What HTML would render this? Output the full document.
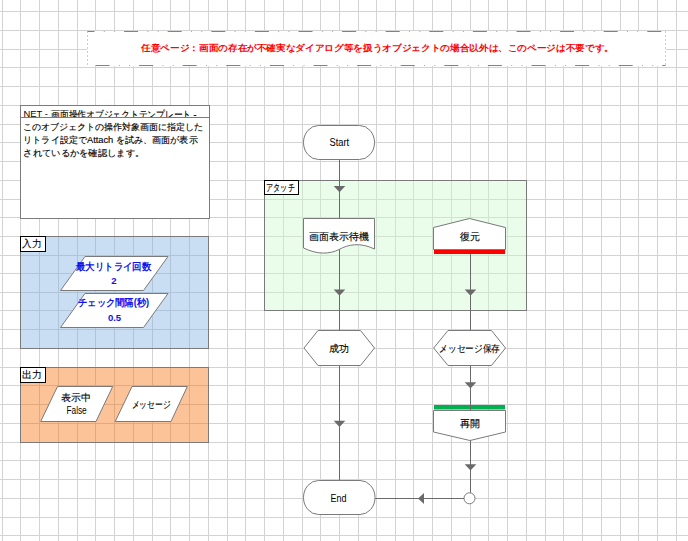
<!DOCTYPE html>
<html><head><meta charset="utf-8"><style>
html,body{margin:0;padding:0;width:688px;height:541px;overflow:hidden;background:#fff;}
</style></head><body>
<svg width="688" height="541" viewBox="0 0 688 541" style="position:absolute;left:0;top:0;font-family:'Liberation Sans',sans-serif"><path d="M2.5 0V541M20.5 0V541M39.5 0V541M58.5 0V541M77.5 0V541M95.5 0V541M114.5 0V541M133.5 0V541M152.5 0V541M170.5 0V541M189.5 0V541M208.5 0V541M227.5 0V541M245.5 0V541M264.5 0V541M283.5 0V541M302.5 0V541M320.5 0V541M339.5 0V541M358.5 0V541M376.5 0V541M395.5 0V541M413.5 0V541M432.5 0V541M451.5 0V541M470.5 0V541M488.5 0V541M507.5 0V541M526.5 0V541M545.5 0V541M563.5 0V541M582.5 0V541M601.5 0V541M620.5 0V541M638.5 0V541M657.5 0V541M676.5 0V541M0 11.5H688M0 30.5H688M0 49.5H688M0 67.5H688M0 86.5H688M0 105.5H688M0 124.5H688M0 142.5H688M0 161.5H688M0 180.5H688M0 199.5H688M0 217.5H688M0 236.5H688M0 255.5H688M0 273.5H688M0 292.5H688M0 310.5H688M0 329.5H688M0 348.5H688M0 367.5H688M0 385.5H688M0 404.5H688M0 423.5H688M0 442.5H688M0 460.5H688M0 479.5H688M0 498.5H688M0 517.5H688M0 535.5H688" stroke="#d3d3d3" stroke-width="1" fill="none" shape-rendering="crispEdges"/>
<rect x="87" y="31" width="579" height="35" fill="#fff"/>
<path d="M87.5 31.5H665.5" stroke="#828282" stroke-width="1" stroke-dasharray="14 29.6" stroke-dashoffset="7" fill="none"/>
<path d="M87.5 65.5H665.5" stroke="#828282" stroke-width="1" stroke-dasharray="14 29.6" stroke-dashoffset="-8" fill="none"/>
<path d="M87.5 31.5H665.5" stroke="#a8a8a8" stroke-width="1" stroke-dasharray="0 23.3 1 9.3 1 9" stroke-dashoffset="7" fill="none"/>
<path d="M87.5 65.5H665.5" stroke="#a8a8a8" stroke-width="1" stroke-dasharray="0 23.3 1 9.3 1 9" stroke-dashoffset="-8" fill="none"/>
<path d="M87.5 31.5V65.5M665.5 31.5V65.5" stroke="#9a9a9a" stroke-width="1" stroke-dasharray="1 3" fill="none"/>
<text x="141" y="50.6" font-size="9" text-anchor="start" font-weight="bold" fill="#ff0000" textLength="473" lengthAdjust="spacingAndGlyphs">任意ページ：画面の存在が不確実なダイアログ等を扱うオブジェクトの場合以外は、このページは不要です。</text>
<rect x="20.5" y="105.5" width="189" height="113" fill="#fff" stroke="#7c7c7c"/>
<clipPath id="c1"><rect x="20" y="106" width="188" height="11"/></clipPath>
<g clip-path="url(#c1)"><text x="23.5" y="116.8" font-size="9.8" text-anchor="start" font-weight="normal" fill="#000" textLength="24.3" lengthAdjust="spacingAndGlyphs">NET -</text><text x="51" y="117.6" font-size="10" text-anchor="start" font-weight="normal" fill="#000" stroke="#000" stroke-width="0.13" textLength="145.5" lengthAdjust="spacingAndGlyphs">画面操作オブジェクトテンプレート -</text></g>
<path d="M20.5 117.5H209.5" stroke="#7c7c7c"/>
<text x="23.3" y="129.8" font-size="9.2" text-anchor="start" font-weight="normal" fill="#000" stroke="#000" stroke-width="0.13" textLength="179.7" lengthAdjust="spacingAndGlyphs">このオブジェクトの操作対象画面に指定した</text>
<text x="23.3" y="142.9" font-size="9.2" text-anchor="start" font-weight="normal" fill="#000" stroke="#000" stroke-width="0.13" textLength="174.4" lengthAdjust="spacingAndGlyphs">リトライ設定でAttach を試み、画面が表示</text>
<text x="23.3" y="155.8" font-size="9.2" text-anchor="start" font-weight="normal" fill="#000" stroke="#000" stroke-width="0.13" textLength="121" lengthAdjust="spacingAndGlyphs">されているかを確認します。</text>
<rect x="20.5" y="236.5" width="188" height="112" fill="rgb(126,175,226)" fill-opacity="0.41" stroke="#7a7a7a"/>
<rect x="20.5" y="236.5" width="25" height="15" fill="#fff" stroke="#000"/>
<text x="22.3" y="247.2" font-size="9.5" text-anchor="start" font-weight="normal" fill="#000" stroke="#000" stroke-width="0.13" textLength="19.5" lengthAdjust="spacingAndGlyphs">入力</text>
<path d="M85 256.5L168 256.5L143.5 290.5L60.5 290.5Z" fill="#fff" stroke="#7a7a7a"/>
<path d="M85 293.5L168 293.5L143.5 327.5L60.5 327.5Z" fill="#fff" stroke="#7a7a7a"/>
<text x="113.5" y="269.7" font-size="10" text-anchor="middle" font-weight="bold" fill="#1010f0" textLength="75" lengthAdjust="spacingAndGlyphs">最大リトライ回数</text>
<text x="113.9" y="283.7" font-size="9.6" text-anchor="middle" font-weight="bold" fill="#1010f0">2</text>
<text x="113.7" y="306.2" font-size="10" text-anchor="middle" font-weight="bold" fill="#1010f0" textLength="71" lengthAdjust="spacingAndGlyphs">チェック間隔(秒)</text>
<text x="114.5" y="320.7" font-size="9.5" text-anchor="middle" font-weight="bold" fill="#1010f0">0.5</text>
<rect x="20.5" y="367.5" width="188" height="75" fill="rgb(248,109,4)" fill-opacity="0.41" stroke="#7a7a7a"/>
<rect x="20.5" y="367.5" width="25" height="15" fill="#fff" stroke="#000"/>
<text x="22.3" y="378.2" font-size="9.5" text-anchor="start" font-weight="normal" fill="#000" stroke="#000" stroke-width="0.13" textLength="19.6" lengthAdjust="spacingAndGlyphs">出力</text>
<path d="M57.5 386.5L112.7 386.5L96 421.5L40.7 421.5Z" fill="#fff" stroke="#7a7a7a"/>
<path d="M132 386.5L187.3 386.5L171 421.5L115.2 421.5Z" fill="#fff" stroke="#7a7a7a"/>
<text x="75.7" y="401" font-size="9.5" text-anchor="middle" font-weight="normal" fill="#000" stroke="#000" stroke-width="0.13">表示中</text>
<text x="76.6" y="413.9" font-size="10" text-anchor="middle" font-weight="normal" fill="#000" textLength="20.3" lengthAdjust="spacingAndGlyphs">False</text>
<text x="151" y="407.5" font-size="9.5" text-anchor="middle" font-weight="normal" fill="#000" stroke="#000" stroke-width="0.13" textLength="38.5" lengthAdjust="spacingAndGlyphs">メッセージ</text>
<rect x="264.5" y="180.5" width="262" height="130" fill="rgb(204,248,204)" fill-opacity="0.41" stroke="#7a7a7a"/>
<rect x="264.5" y="180.5" width="34" height="14" fill="#fff" stroke="#000"/>
<text x="266.3" y="190.6" font-size="9.5" text-anchor="start" font-weight="normal" fill="#000" stroke="#000" stroke-width="0.13" textLength="28.3" lengthAdjust="spacingAndGlyphs">アタッチ</text>
<path d="M339.5 159V480.5M470.5 254V330M470.5 365.5V410M470.5 440V493M464 498.5H375" stroke="#6a6a6a" stroke-width="1" fill="none"/>
<path d="M333.7 186.0L345.3 186.0L339.5 192.3Z" fill="#6a6a6a"/>
<path d="M333.7 289.5L345.3 289.5L339.5 295.8Z" fill="#6a6a6a"/>
<path d="M464.7 289.5L476.3 289.5L470.5 295.8Z" fill="#6a6a6a"/>
<path d="M333.7 420.7L345.3 420.7L339.5 427Z" fill="#6a6a6a"/>
<path d="M464.7 382.2L476.3 382.2L470.5 388.5Z" fill="#6a6a6a"/>
<path d="M464.7 464.2L476.3 464.2L470.5 470.5Z" fill="#6a6a6a"/>
<path d="M424 493.0L424 504.0L418 498.5Z" fill="#6a6a6a"/>
<rect x="303.5" y="125.5" width="71" height="34" rx="15" ry="17" fill="#fff" stroke="#7a7a7a"/>
<text x="339.3" y="145.5" font-size="10" text-anchor="middle" font-weight="normal" fill="#000" textLength="19.7" lengthAdjust="spacingAndGlyphs">Start</text>
<path d="M303.5 218.5H374.5V249C360 242 348 244.5 339 249.5C330 254 318 255 303.5 248Z" fill="#fff" stroke="#7a7a7a"/>
<text x="339.2" y="240.2" font-size="10" text-anchor="middle" font-weight="normal" fill="#000" stroke="#000" stroke-width="0.13" textLength="59.8" lengthAdjust="spacingAndGlyphs">画面表示待機</text>
<path d="M433.5 227.5L469.5 218.5L505.5 227.5V249.5H433.5Z" fill="#fff" stroke="#7a7a7a"/>
<rect x="434" y="250" width="71" height="4" fill="#ff0000"/>
<text x="469.5" y="240.2" font-size="10" text-anchor="middle" font-weight="normal" fill="#000" stroke="#000" stroke-width="0.13">復元</text>
<path d="M304 348L318 330.5H360.5L374.5 348L360.5 365.5H318Z" fill="#fff" stroke="#7a7a7a"/>
<text x="338.8" y="351.8" font-size="10" text-anchor="middle" font-weight="normal" fill="#000" stroke="#000" stroke-width="0.13">成功</text>
<path d="M433.7 348L448 330.5H491.5L505.5 348L491.5 365.5H448Z" fill="#fff" stroke="#7a7a7a"/>
<text x="469.6" y="352.3" font-size="10" text-anchor="middle" font-weight="normal" fill="#000" stroke="#000" stroke-width="0.13" textLength="60.4" lengthAdjust="spacingAndGlyphs">メッセージ保存</text>
<rect x="434" y="405" width="71" height="4.5" fill="#00b050"/>
<path d="M433.5 410.5H505.5V432L470 440.5L433.5 432Z" fill="#fff" stroke="#7a7a7a"/>
<text x="469.9" y="427.3" font-size="10" text-anchor="middle" font-weight="normal" fill="#000" stroke="#000" stroke-width="0.13">再開</text>
<rect x="303.5" y="480.5" width="71.5" height="34" rx="15" ry="17" fill="#fff" stroke="#7a7a7a"/>
<text x="338.6" y="501.7" font-size="10" text-anchor="middle" font-weight="normal" fill="#000" textLength="16" lengthAdjust="spacingAndGlyphs">End</text>
<circle cx="469.5" cy="498.3" r="5.5" fill="#fff" stroke="#7a7a7a"/>
<path d="M470.5 404V410.5" stroke="#6a6a6a" stroke-width="1"/></svg>
</body></html>
